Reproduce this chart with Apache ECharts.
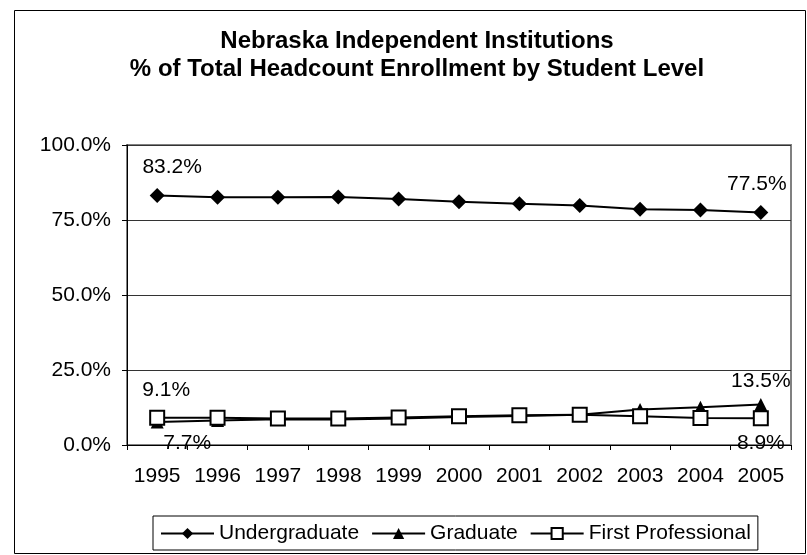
<!DOCTYPE html>
<html>
<head>
<meta charset="utf-8">
<script src="https://cdn.jsdelivr.net/npm/echarts@6/dist/echarts.min.js"></script>
<style>
html,body{margin:0;padding:0;background:#fff;}
#chart{width:807px;height:555px;}
</style>
</head>
<body>
<div id="chart"></div>
<script>
var years = ['1995','1996','1997','1998','1999','2000','2001','2002','2003','2004','2005'];
var undergraduate = [83.2, 82.6, 82.6, 82.7, 82.0, 81.1, 80.4, 79.8, 78.6, 78.3, 77.5];
var graduate = [7.7, 8.2, 8.6, 8.5, 8.8, 9.3, 9.7, 10.1, 11.8, 12.6, 13.5];
var firstProfessional = [9.1, 9.1, 8.8, 8.8, 9.2, 9.6, 9.9, 10.1, 9.6, 9.0, 8.9];
var yTicks = [0, 25, 50, 75, 100];
var titleLines = ['Nebraska Independent Institutions', '% of Total Headcount Enrollment by Student Level'];

var FONT = 'Liberation Sans';
function pct(v){ return v.toFixed(1) + '%'; }

function withLabels(values, firstLabel, lastLabel){
  return values.map(function(v, i){
    var item = {value: v};
    if (i === 0 && firstLabel) item.label = Object.assign({show: true}, firstLabel);
    if (i === values.length - 1 && lastLabel) item.label = Object.assign({show: true}, lastLabel);
    return item;
  });
}

var labelBase = {color: '#000', fontFamily: FONT, fontSize: 21, formatter: function(p){ return pct(p.value); }};

var chart = echarts.init(document.getElementById('chart'), null, {renderer: 'canvas'});
chart.setOption({
  backgroundColor: '#fff',
  animation: false,
  title: {
    text: titleLines.join('\n'),
    left: 412,
    top: 22,
    textAlign: 'center',
    textStyle: {fontFamily: FONT, fontSize: 24, fontWeight: 'bold', color: '#000', lineHeight: 28, align: 'center'}
  },
  graphic: [{
    type: 'rect',
    shape: {x: 14.5, y: 10.5, width: 791, height: 543},
    style: {fill: 'none', stroke: '#000', lineWidth: 1},
    silent: true
  }],
  grid: {left: 127, right: 16, top: 145, bottom: 110, show: true, borderColor: '#808080', borderWidth: 2, containLabel: false},
  legend: {
    top: 516,
    left: 153,
    orient: 'horizontal',
    itemWidth: 53,
    itemHeight: 14,
    itemGap: 12,
    padding: [7, 7, 6, 7],
    borderColor: '#000',
    borderWidth: 1,
    textStyle: {fontFamily: FONT, fontSize: 21, color: '#000'},
    data: ['Undergraduate', 'Graduate', 'First Professional']
  },
  xAxis: {
    type: 'category',
    data: years,
    boundaryGap: true,
    axisLine: {lineStyle: {color: '#000', width: 1}},
    axisTick: {show: true, length: 5, inside: false, interval: 0, lineStyle: {color: '#000'}},
    axisLabel: {fontFamily: FONT, fontSize: 21, color: '#000', margin: 21, interval: 0, hideOverlap: false}
  },
  yAxis: {
    type: 'value',
    min: 0,
    max: 100,
    interval: 25,
    axisLine: {show: true, lineStyle: {color: '#000', width: 1}},
    axisTick: {show: true, length: 5, lineStyle: {color: '#000'}},
    splitLine: {show: true, lineStyle: {color: '#333', width: 1}},
    axisLabel: {fontFamily: FONT, fontSize: 21, color: '#000', margin: 16, formatter: function(v){ return yTicks.indexOf(v) >= 0 ? pct(v) : ''; }}
  },
  series: [
    {
      name: 'Undergraduate',
      type: 'line',
      symbol: 'diamond',
      symbolSize: 15,
      itemStyle: {color: '#000'},
      lineStyle: {color: '#000', width: 2},
      label: labelBase,
      data: withLabels(undergraduate,
        {position: 'top', distance: 10, offset: [15, 0]},
        {position: 'top', distance: 10, offset: [-4, 0]})
    },
    {
      name: 'Graduate',
      type: 'line',
      symbol: 'triangle',
      symbolSize: 13,
      itemStyle: {color: '#000'},
      lineStyle: {color: '#000', width: 2},
      label: labelBase,
      data: withLabels(graduate,
        {position: 'bottom', distance: 4, offset: [30, 0]},
        {position: 'top', distance: 6, offset: [0, 0]})
    },
    {
      name: 'First Professional',
      type: 'line',
      symbol: 'rect',
      symbolSize: 14,
      itemStyle: {color: '#fff', borderColor: '#000', borderWidth: 2},
      lineStyle: {color: '#000', width: 2},
      label: labelBase,
      data: withLabels(firstProfessional,
        {position: 'top', distance: 9, offset: [9, 0]},
        {position: 'bottom', distance: 6, offset: [0, 0]})
    }
  ]
});
</script>
</body>
</html>
